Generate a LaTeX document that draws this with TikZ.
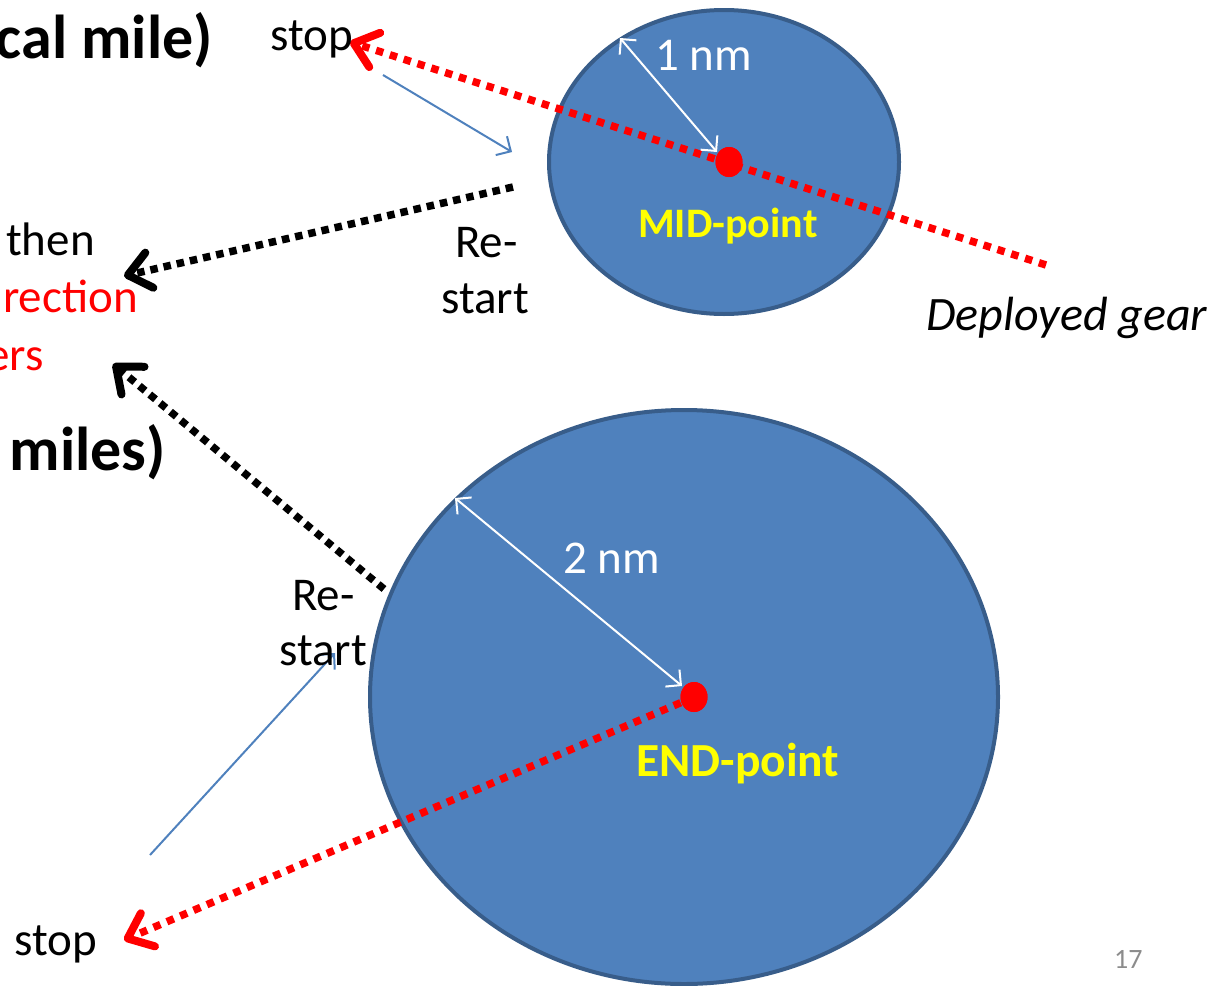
\documentclass[tikz,border=0pt]{standalone}
\usepackage{fontspec}
\setmainfont{Carlito}
\usetikzlibrary{arrows.meta,shapes.geometric}
\definecolor{pblue}{HTML}{4F81BD}
\definecolor{pborder}{HTML}{385D8A}
\definecolor{pgray}{HTML}{8C8C8C}
\definecolor{pyellow}{HTML}{FFFF00}
\begin{document}
\begin{tikzpicture}[x=1pt,y=-1pt,
  zone/.style={ellipse, draw=pborder, line width=4pt, fill=pblue, inner sep=0pt},
  dotmark/.style={ellipse, fill=red, inner sep=0pt, minimum width=27pt, minimum height=30pt},
  bigtip/.style={-{Straight Barb[length=22pt,width=36pt,line width=8pt,line cap=round,line join=round]}},
  reddots/.style={draw=red, line width=7.5pt, dash pattern=on 7.5pt off 7pt, bigtip},
  blackdots/.style={draw=black, line width=7.5pt, dash pattern=on 7.5pt off 6pt, bigtip},
  thinblue/.style={draw=pblue, line width=2pt, -{Straight Barb[length=11pt,width=22pt,line width=2pt]}},
  whitearr/.style={draw=white, line width=2pt, {Straight Barb[length=11pt,width=22pt,line width=2pt]}-{Straight Barb[length=11pt,width=22pt,line width=2pt]}},
  txt/.style={inner sep=0pt, anchor=base west, font=\fontsize{47}{50}\selectfont},
  txtr/.style={inner sep=0pt, anchor=base east, font=\fontsize{47}{50}\selectfont},
  bigbold/.style={inner sep=0pt, anchor=base east, font=\fontsize{62}{66}\selectfont\bfseries},
]
\useasboundingbox (0,0) rectangle (1225,985);

% zones
\node[zone, minimum width=350pt, minimum height=304pt] (mid) at (724,162) {};
\node[zone, minimum width=628pt, minimum height=574pt] (endz) at (684,697) {};

% coordinates
\coordinate (gearend) at (1046,265);
\coordinate (stoptipA) at (350,42);
\coordinate (stoptipB) at (124,940);
\coordinate (blkAs) at (513,187);
\coordinate (blkAe) at (124,276);
\coordinate (blkBs) at (384,589);
\coordinate (blkBe) at (113,364);
\coordinate (bluAs) at (383,75);
\coordinate (bluAe) at (512,152);
\coordinate (bluBs) at (150,855);
\coordinate (bluBe) at (335,653);
\coordinate (whAs) at (620,38);
\coordinate (whAe) at (717,152);
\coordinate (whBs) at (455,498);
\coordinate (whBe) at (682,686);

% center dots
\node[dotmark] (middot) at (729,162) {};
\node[dotmark] (enddot) at (694,697) {};

% connectors
\draw[reddots] (gearend) -- (stoptipA);
\draw[reddots] (enddot.center) -- (stoptipB);
\draw[blackdots] (blkAs) -- (blkAe);
\draw[blackdots] (blkBs) -- (blkBe);
\draw[thinblue] (bluAs) -- (bluAe);
\draw[thinblue] (bluBs) -- (bluBe);
\draw[whitearr] (whAs) -- (whAe);
\draw[whitearr] (whBs) -- (whBe);

% redraw dots on top
\node[dotmark] (middot2) at (729,162) {};
\node[dotmark] (enddot2) at (694,697) {};

% texts
\node[bigbold] (t1) at (213,58) {cal mile)};
\node[bigbold] (t2) at (166,470) {miles)};
\node[txt] (t3) at (6,255) {then};
\node[txtr, text=red] (t4) at (138,312) {rection};
\node[txtr, text=red] (t5) at (44,370) {ers};
\node[txt] (stopA) at (270,50) {stop};
\node[txt] (reA) at (455,257) {Re-};
\node[txt] (startA) at (441,313) {start};
\node[txt, font=\fontsize{48}{50}\selectfont\itshape] (gear) at (926,330) {Deployed gear};
\node[txt, text=white] (nm1) at (655,70) {1 nm};
\node[txt, text=pyellow, font=\fontsize{42}{46}\selectfont\bfseries] (midlbl) at (638,237) {MID-point};
\node[txt] (reB) at (292,610) {Re-};
\node[txt] (startB) at (279,665) {start};
\node[txt, text=white] (nm2) at (563,573) {2 nm};
\node[txt, text=pyellow, font=\fontsize{47.5}{50}\selectfont\bfseries] (endlbl) at (636,776) {END-point};
\node[txt] (stopB) at (14,955) {stop};
\node[txt, text=pgray, font=\fontsize{28}{32}\selectfont] (pg) at (1114,968) {17};
\end{tikzpicture}
\end{document}
